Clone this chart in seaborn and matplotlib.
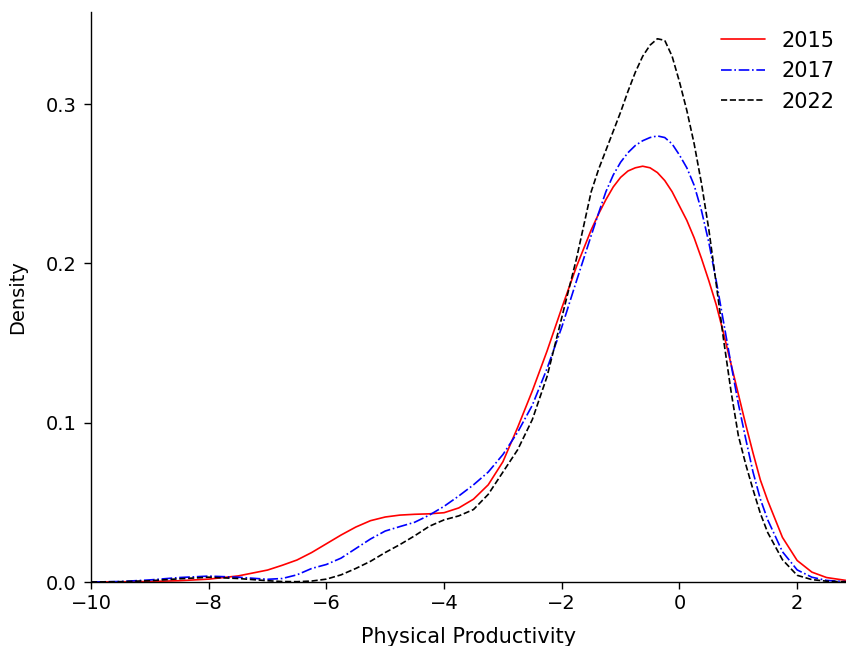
import numpy as np
import pandas as pd
import matplotlib
matplotlib.use("Agg")
import matplotlib.pyplot as plt
import seaborn as sns

# x positions (Physical Productivity) at which densities were read
x_vals = [-10, -9.5, -9, -8.5, -8, -7.5, -7, -6.75, -6.5, -6.25, -6, -5.75, -5.5,
          -5.25, -5, -4.75, -4.5, -4.25, -4, -3.75, -3.5, -3.25, -3, -2.75, -2.5,
          -2.25, -2, -1.75, -1.5, -1.375, -1.25, -1.125, -1, -0.875, -0.75, -0.625,
          -0.5, -0.375, -0.25, -0.125, 0, 0.125, 0.25, 0.375, 0.5, 0.625, 0.75,
          0.875, 1, 1.125, 1.25, 1.375, 1.5, 1.75, 2, 2.25, 2.5, 2.83]

dens_2015 = [0.0, 0.0001, 0.0003, 0.0008, 0.0018, 0.0038, 0.0075, 0.0105, 0.0138,
             0.0185, 0.0240, 0.0295, 0.0345, 0.0385, 0.0408, 0.0420, 0.0425, 0.0428,
             0.0435, 0.0465, 0.0520, 0.0610, 0.0755, 0.0970, 0.1200, 0.1450, 0.1720,
             0.1980, 0.2210, 0.2310, 0.2400, 0.2480, 0.2540, 0.2580, 0.2600, 0.2610,
             0.2600, 0.2570, 0.2520, 0.2450, 0.2360, 0.2270, 0.2160, 0.2030, 0.1890,
             0.1740, 0.1560, 0.1370, 0.1180, 0.0990, 0.0810, 0.0640, 0.0510, 0.0280,
             0.0135, 0.0062, 0.0028, 0.0010]

dens_2017 = [0.0, 0.0003, 0.0013, 0.0028, 0.0037, 0.0030, 0.0017, 0.0022, 0.0045,
             0.0085, 0.0110, 0.0150, 0.0210, 0.0270, 0.0320, 0.0348, 0.0375, 0.0420,
             0.0475, 0.0540, 0.0610, 0.0690, 0.0800, 0.0940, 0.1110, 0.1340, 0.1600,
             0.1890, 0.2175, 0.2315, 0.2450, 0.2555, 0.2635, 0.2695, 0.2740, 0.2770,
             0.2790, 0.2800, 0.2790, 0.2750, 0.2680, 0.2600, 0.2490, 0.2330, 0.2130,
             0.1890, 0.1630, 0.1370, 0.1120, 0.0900, 0.0690, 0.0520, 0.0390, 0.0190,
             0.0076, 0.0030, 0.0010, 0.0002]

dens_2022 = [0.0, 0.0002, 0.0008, 0.0020, 0.0030, 0.0022, 0.0008, 0.0003, 0.0002,
             0.0006, 0.0018, 0.0045, 0.0085, 0.0130, 0.0185, 0.0235, 0.0290, 0.0350,
             0.0390, 0.0415, 0.0455, 0.0550, 0.0690, 0.0830, 0.1020, 0.1290, 0.1660,
             0.2030, 0.2450, 0.2590, 0.2710, 0.2830, 0.2950, 0.3080, 0.3200, 0.3300,
             0.3370, 0.3410, 0.3400, 0.3300, 0.3140, 0.2960, 0.2750, 0.2500, 0.2210,
             0.1870, 0.1520, 0.1200, 0.0920, 0.0740, 0.0580, 0.0430, 0.0310, 0.0140,
             0.0042, 0.0015, 0.0005, 0.0001]

years = ["2015", "2017", "2022"]
colors = ["red", "blue", "black"]
styles = ["-", "-.", "--"]

sns.set_theme(style="ticks")
plt.rcParams["font.family"] = ["DejaVu Sans"]
plt.rcParams["text.color"] = "black"
plt.rcParams["axes.labelcolor"] = "black"

fig = plt.figure(figsize=(8.46, 6.46), dpi=100)
ax = fig.add_axes([91 / 846, 64 / 646, 1 - 91 / 846, (582 - 12) / 646])

for yr, dens, col, ls in zip(years, [dens_2015, dens_2017, dens_2022], colors, styles):
    df = pd.DataFrame({"x": x_vals, "d": dens})
    sns.lineplot(data=df, x="x", y="d", color=col, linestyle=ls, linewidth=1.2,
                 label=yr, ax=ax)

ax.set_xlim(-10, 2.83)
ax.set_ylim(0, 0.3578)
ax.set_xticks([-10, -8, -6, -4, -2, 0, 2])
ax.set_yticks([0.0, 0.1, 0.2, 0.3])
ax.set_yticklabels(["0.0", "0.1", "0.2", "0.3"])
ax.set_xlabel("Physical Productivity", fontsize=15, labelpad=10)
ax.set_ylabel("Density", fontsize=14, labelpad=13)
ax.tick_params(axis="both", labelsize=14, length=5, width=1, color="black",
               labelcolor="black")
ax.tick_params(axis="y", pad=5.5)
for s in ["left", "bottom"]:
    ax.spines[s].set_color("black")
    ax.spines[s].set_linewidth(1.0)
sns.despine(ax=ax)

leg = ax.legend(loc="upper right", frameon=False, fontsize=15, handlelength=2.1,
                borderaxespad=0, bbox_to_anchor=(0.996, 1 - 10.4 / 570))

fig.savefig("out.png", dpi=100)
